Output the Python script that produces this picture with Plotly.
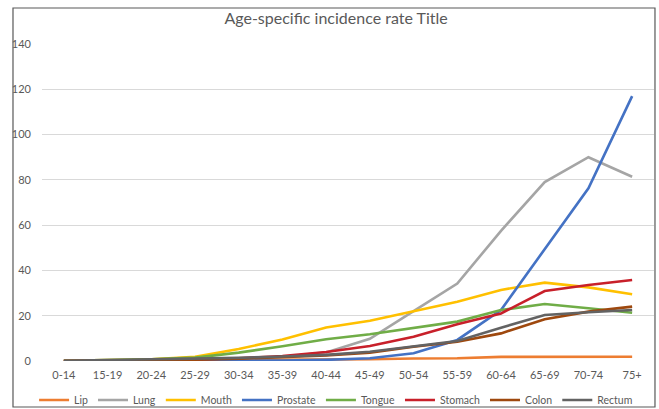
import plotly.graph_objects as go

age_groups = ["0-14", "15-19", "20-24", "25-29", "30-34", "35-39", "40-44",
              "45-49", "50-54", "55-59", "60-64", "65-69", "70-74", "75+"]

lip      = [0.0, 0.1, 0.2, 0.2, 0.3, 0.4, 0.5, 0.8, 1.1, 1.2, 1.8, 1.9, 1.9, 1.9]
lung     = [0.0, 0.1, 0.2, 0.4, 0.8, 1.8, 3.8, 9.8, 22.0, 34.2, 57.5, 79.0, 90.0, 81.4]
mouth    = [0.1, 0.3, 0.8, 1.9, 5.3, 9.5, 14.8, 17.8, 22.0, 26.2, 31.4, 34.6, 32.5, 29.5]
prostate = [0.0, 0.0, 0.0, 0.0, 0.1, 0.2, 0.5, 1.2, 3.4, 9.3, 22.5, 49.5, 76.3, 117.0]
tongue   = [0.1, 0.3, 0.7, 1.5, 3.7, 6.5, 9.6, 11.8, 14.7, 17.4, 22.5, 25.2, 23.3, 21.3]
stomach  = [0.0, 0.1, 0.3, 0.7, 1.2, 2.2, 4.0, 6.6, 10.7, 16.2, 21.0, 30.9, 33.6, 35.8]
colon    = [0.0, 0.1, 0.3, 0.6, 1.0, 1.7, 2.5, 3.7, 6.3, 8.5, 12.2, 18.4, 21.8, 24.0]
rectum   = [0.1, 0.4, 0.7, 1.0, 1.4, 2.0, 2.7, 4.1, 6.3, 8.8, 14.7, 20.3, 21.5, 22.5]

series = [
    ("Lip", lip, "#ED7D31"),
    ("Lung", lung, "#A5A5A5"),
    ("Mouth", mouth, "#FFC000"),
    ("Prostate", prostate, "#4472C4"),
    ("Tongue", tongue, "#70AD47"),
    ("Stomach", stomach, "#C8202A"),
    ("Colon", colon, "#9E480E"),
    ("Rectum", rectum, "#636363"),
]

fig = go.Figure()
for name, vals, color in series:
    fig.add_trace(go.Scatter(x=age_groups, y=vals, name=name, mode="lines",
                             line=dict(color=color, width=2.6)))

font_family = "Lato, 'Open Sans', sans-serif"
fig.update_layout(
    width=659, height=409,
    margin=dict(l=42, r=5, t=44, b=48),
    paper_bgcolor="white", plot_bgcolor="white",
    font=dict(family=font_family, size=11, color="#595959"),
    title=dict(text="Age-specific incidence rate Title", x=0.51, xanchor="center",
               y=0.955, yanchor="middle",
               font=dict(family=font_family, size=16, color="#595959")),
    showlegend=True,
    legend=dict(orientation="h", xref="container", x=0.51, xanchor="center",
                yref="container", y=0.022, yanchor="middle",
                font=dict(size=10.5, color="#595959"), itemwidth=30,
                tracegroupgap=0, bgcolor="rgba(0,0,0,0)"),
    xaxis=dict(showgrid=False, showline=False, ticks="", tickfont=dict(size=11),
               zeroline=False, range=[-0.5, 13.5], ticklabelstandoff=6),
    yaxis=dict(range=[0, 140], dtick=20, showgrid=True, gridcolor="#D9D9D9",
               gridwidth=1, zeroline=False, showline=False, ticks="",
               tickfont=dict(size=11), ticklabelstandoff=10),
)

fig.add_shape(type="rect", xref="paper", yref="paper",
              x0=-0.0474, x1=1.0016, y0=-0.1451, y1=1.1136,
              line=dict(color="#595959", width=1.2), fillcolor="rgba(0,0,0,0)",
              layer="above")

fig.write_html("out.html", config={"displayModeBar": False},
               post_script="document.body.style.margin='0';document.body.style.overflow='hidden';")
